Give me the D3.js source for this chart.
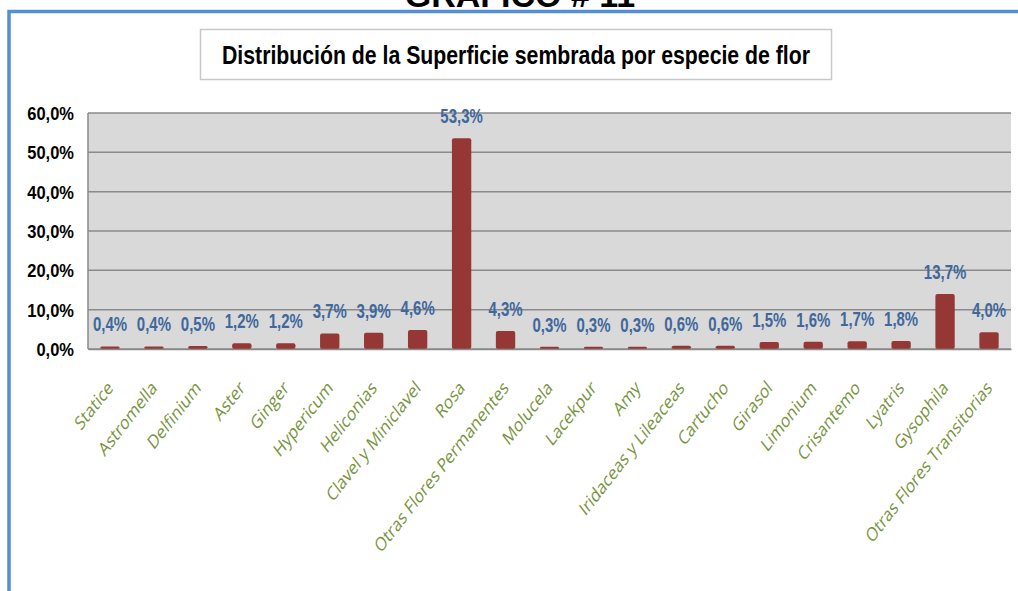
<!DOCTYPE html>
<html>
<head>
<meta charset="utf-8">
<script src="https://cdn.jsdelivr.net/npm/d3@7"></script>
<style>
  body { margin: 0; background: #fff; }
  #chart { width: 1018px; height: 591px; }
</style>
</head>
<body>
<div id="chart"></div>
<script>
var categories = ["Statice", "Astromella", "Delfinium", "Aster", "Ginger", "Hypericum", "Heliconias",
  "Clavel y Miniclavel", "Rosa", "Otras Flores Permanentes", "Molucela", "Lacekpur", "Amy",
  "Iridaceas y Lileaceas", "Cartucho", "Girasol", "Limonium", "Crisantemo", "Lyatris", "Gysophila",
  "Otras Flores Transitorias"]
var values = [0.4, 0.4, 0.5, 1.2, 1.2, 3.7, 3.9, 4.6, 53.3, 4.3, 0.3, 0.3, 0.3, 0.6, 0.6, 1.5, 1.6, 1.7, 1.8, 13.7, 4.0]
var yTicks = [0, 10, 20, 30, 40, 50, 60]
var chartTitle = "Distribución de la Superficie sembrada por especie de flor"
var pageTitle = "GRAFICO # 11"

var width = 1018, height = 591
var margin = {top: 113, right: 7, bottom: 242, left: 88}
var plotW = width - margin.left - margin.right
var plotH = height - margin.top - margin.bottom

// the original picture is a bit stretched in height, texts too
var stretch = 1.28

var fmt = function(v){ return v.toFixed(1).replace(".", ",") + "%" }

var svg = d3.select("#chart").append("svg")
    .attr("width", width)
    .attr("height", height)

// page heading, cut off at the top
svg.append("text")
    .attr("x", 520).attr("y", 7)
    .attr("text-anchor", "middle")
    .style("font-family", "Liberation Sans, Arial, sans-serif")
    .style("font-weight", "bold")
    .style("font-size", "34px")
    .text(pageTitle)

// blue frame
svg.append("path")
    .attr("d", "M9," + height + " V11.5 H" + width)
    .attr("fill", "none")
    .attr("stroke", "#558ED5")
    .attr("stroke-width", 3.5)

// title box
svg.append("rect")
    .attr("x", 200.5).attr("y", 29.5)
    .attr("width", 631).attr("height", 50)
    .attr("fill", "#fff")
    .attr("stroke", "#c8c8c8")
    .attr("stroke-width", 1.5)

svg.append("text")
    .attr("x", 516).attr("y", 64)
    .attr("text-anchor", "middle")
    .attr("textLength", 588)
    .attr("lengthAdjust", "spacingAndGlyphs")
    .style("font-family", "Liberation Sans, Arial, sans-serif")
    .style("font-weight", "bold")
    .style("font-size", "26px")
    .text(chartTitle)

var g = svg.append("g")
    .attr("transform", "translate(" + margin.left + "," + margin.top + ")")

var x = d3.scaleBand()
    .domain(categories)
    .range([0, plotW])
    .paddingInner(0.56)
    .paddingOuter(0.28)

var y = d3.scaleLinear()
    .domain([0, 60])
    .range([plotH, 0])

g.append("rect")
    .attr("width", plotW)
    .attr("height", plotH)
    .attr("fill", "#D9D9D9")

g.selectAll(".grid")
    .data(yTicks)
    .enter().append("line")
    .attr("class", "grid")
    .attr("x1", 0).attr("x2", plotW)
    .attr("y1", function(d){ return y(d) })
    .attr("y2", function(d){ return y(d) })
    .attr("stroke", "#8a8a8a")
    .attr("stroke-width", 1.5)

g.append("line")
    .attr("x1", 0).attr("x2", 0)
    .attr("y1", 0).attr("y2", plotH)
    .attr("stroke", "#8a8a8a")
    .attr("stroke-width", 1.5)

var yAxis = g.append("g")
    .call(d3.axisLeft(y).tickValues(yTicks).tickSize(0).tickPadding(14).tickFormat(fmt))
yAxis.select(".domain").remove()
yAxis.selectAll("text")
    .attr("dy", "0.36em")
    .attr("transform", "scale(1,1.12)")
    .style("font-family", "Liberation Sans, Arial, sans-serif")
    .style("font-weight", "bold")
    .style("font-size", "16.5px")
    .attr("fill", "#000")

g.selectAll(".bar")
    .data(values)
    .enter().append("rect")
    .attr("class", "bar")
    .attr("x", function(d, i){ return x(categories[i]) })
    .attr("y", function(d){ return y(d) - 1 })
    .attr("width", x.bandwidth())
    .attr("height", function(d){ return plotH - y(d) + 1 })
    .attr("rx", 2)
    .attr("fill", "#953735")

g.selectAll(".val")
    .data(values)
    .enter().append("text")
    .attr("class", "val")
    .attr("transform", function(d, i){
      return "translate(" + (x(categories[i]) + x.bandwidth() / 2) + "," + (y(d) - 16) + ") scale(1,1.35)"
    })
    .attr("text-anchor", "middle")
    .style("font-family", "Liberation Sans, Arial, sans-serif")
    .style("font-weight", "bold")
    .style("font-size", "15px")
    .attr("fill", "#3F689C")
    .text(fmt)

var xAxis = g.append("g")
    .attr("transform", "translate(0," + plotH + ")")
    .call(d3.axisBottom(x).tickSize(0).tickPadding(0))
xAxis.select(".domain")
    .attr("stroke", "#8a8a8a")
    .attr("stroke-width", 1.5)
xAxis.selectAll("text")
    .attr("text-anchor", "end")
    .attr("y", 0)
    .attr("dy", 0)
    .attr("transform", "translate(4,40) scale(1," + stretch + ") rotate(-45)")
    .style("font-family", "Open Sans, sans-serif")
    .style("font-size", "15px")
    .attr("fill", "#77933C")
</script>
</body>
</html>
